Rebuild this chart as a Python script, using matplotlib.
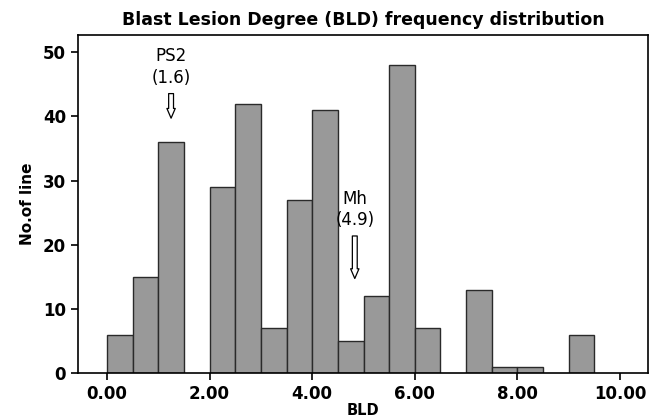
import matplotlib
matplotlib.use("Agg")
import matplotlib.pyplot as plt
from matplotlib import font_manager
import numpy as np

# histogram of BLD, bins of 0.5 from 0 to 10
bin_width = 0.5
bin_starts = np.arange(0, 10, bin_width)
counts = [6, 15, 36, 0, 29, 42, 7, 27, 41, 5,
          12, 48, 7, 0, 13, 1, 1, 0, 6, 0]

xticks = [0, 2, 4, 6, 8, 10]
xtick_labels = ["0.00", "2.00", "4.00", "6.00", "8.00", "10.00"]
yticks = [0, 10, 20, 30, 40, 50]

# arrow markers: label, value, x position, arrow top, arrow tip
marks = [("PS2", "(1.6)", 1.25, 44.0, 39.3),
         ("Mh", "(4.9)", 4.83, 21.8, 14.3)]

# pick a condensed face if one is installed
names = set(f.name for f in font_manager.fontManager.ttflist)
narrow = [n for n in ["Liberation Sans Narrow", "DejaVu Sans Condensed"] if n in names]
narrow = narrow + ["DejaVu Sans"]

fig = plt.figure(figsize=(6.55, 4.17), dpi=100)
ax = fig.add_axes([0.119, 0.1055, 0.870, 0.8105])

nz = [i for i, c in enumerate(counts) if c > 0]
ax.bar(bin_starts[nz], np.array(counts)[nz], width=bin_width, align="edge",
       color="#999999", edgecolor="#2a2a2a", linewidth=1.0)

ax.set_xlim(-0.565, 10.54)
ax.set_ylim(0, 52.7)
ax.set_xticks(xticks)
ax.set_xticklabels(xtick_labels)
ax.set_yticks(yticks)
ax.tick_params(axis="both", labelsize=12, length=5, width=1.2, direction="out")
for lab in ax.get_xticklabels() + ax.get_yticklabels():
    lab.set_fontweight("bold")
for s in ax.spines.values():
    s.set_linewidth(1.2)

ax.set_title("Blast Lesion Degree (BLD) frequency distribution",
             fontsize=12.5, fontweight="bold", pad=7)
ax.set_xlabel("BLD", fontsize=10.5, fontweight="bold", labelpad=0)
ax.set_ylabel("No.of line", fontsize=11, fontweight="bold", family=narrow, labelpad=6)

for name, val, x, y0, y1 in marks:
    ax.annotate("", xy=(x, y1), xytext=(x, y0),
                arrowprops=dict(arrowstyle="simple,head_length=0.7,head_width=0.6,tail_width=0.35",
                                fc="white", ec="black", lw=0.9))
    ax.text(x, y0 + 5.4, name, ha="center", va="center", fontsize=12, family=narrow)
    ax.text(x, y0 + 2.0, val, ha="center", va="center", fontsize=12, family=narrow)

fig.savefig("out.png", dpi=100)
